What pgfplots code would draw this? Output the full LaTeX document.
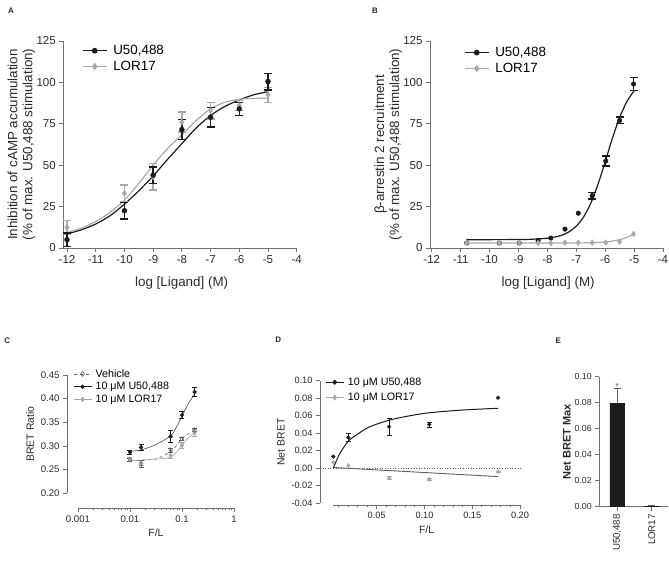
\documentclass[border=0pt]{standalone}
\usepackage{fontspec}
\setmainfont{Liberation Sans}
\usepackage{pgfplots}
\pgfplotsset{compat=1.18}

\definecolor{ink}{HTML}{1C1C1C}
\definecolor{lgray}{HTML}{A9A9A9}
\definecolor{mgray}{HTML}{5E5E5E}
\definecolor{axgray}{HTML}{707070}
\definecolor{txt}{HTML}{2A2A2A}

\newcommand{\fs}[2]{\fontsize{#1}{#2}\selectfont}

\pgfplotsset{
  gp/.style={
    scale only axis, anchor=south west, clip=false,
    axis lines=left, axis line style={-, axgray, line width=0.9pt},
    every tick/.style={axgray, line width=0.9pt},
    tick align=outside, major tick length=4pt, minor tick length=2.5pt,
    /pgf/number format/assume math mode=true,
    every tick label/.append style={text=txt},
    label style={text=txt},
    legend cell align=left,
  },
  big/.style={
    ticklabel style={font=\fs{11.5}{12}},
    label style={font=\fs{13.4}{15}, align=center},
    legend style={draw=none, fill=none, font=\fs{13.4}{14}, inner sep=0pt, row sep=3pt,
      column sep=5pt, nodes={inner sep=1pt}},
    legend image code/.code={\draw[mark repeat=2,mark phase=2,##1] plot coordinates {(0pt,0pt) (12pt,0pt) (24pt,0pt)};},
    xlabel style={at={(axis description cs:0.507,-0.168)}, anchor=center},
    ylabel style={at={(axis description cs:-0.18,0.5)}, anchor=center},
    xtick={-12,-11,...,-4}, ytick={0,25,...,125}, ymin=0, ymax=125, xmax=-4,
    xlabel={log [Ligand] (M)},
  },
  small/.style={
    ticklabel style={font=\fs{9.6}{10}},
    label style={font=\fs{10.5}{12}},
    legend style={draw=none, fill=none, font=\fs{10.7}{11}, inner sep=0pt, row sep=2.5pt,
      column sep=3pt, nodes={inner sep=0.6pt}},
    legend image code/.code={\draw[mark repeat=2,mark phase=2,##1] plot coordinates {(0pt,0pt) (9pt,0pt) (18pt,0pt)};},
  },
  ebA/.style={error bars/.cd, y dir=both, y explicit,
    error bar style={line width=1.4pt}, error mark options={rotate=90, line width=1.4pt, mark size=4pt}, /pgfplots/.cd},
  ebC/.style={error bars/.cd, y dir=both, y explicit,
    error bar style={line width=0.6pt}, error mark options={rotate=90, line width=0.6pt, mark size=2.5pt}, /pgfplots/.cd},
}

\begin{document}
\begin{tikzpicture}
\path[use as bounding box] (0,0) rectangle (669pt,564pt);

% panel letters
\begin{scope}[every node/.style={font=\bfseries\fs{8}{8}, text=txt}]
\node at (11pt,553.3pt) {A};
\node at (375pt,553.3pt) {B};
\node at (7.3pt,223.3pt) {C};
\node at (278.3pt,224.7pt) {D};
\node at (558.3pt,223.3pt) {E};
\end{scope}

% ---------- A ----------
\begin{axis}[gp, big, at={(63.3pt,316pt)}, width=233.4pt, height=207pt, xmin=-12.13,
  ylabel={Inhibition of cAMP accumulation\\(\% of max. U50,488 stimulation)},
  legend style={at={(axis description cs:0.08,0.985)}, anchor=north west}]
\addlegendimage{ink, line width=1.1pt, mark=*, mark size=2.3pt}
\addlegendentry{U50,488}
\addlegendimage{lgray, line width=1.1pt, mark=diamond*, mark size=2.8pt}
\addlegendentry{LOR17}
\addplot[ink, line width=1.2pt, smooth, forget plot] coordinates {
(-12,8.5) (-11.5,11) (-11,14.5) (-10.5,19.5) (-10,26.5) (-9.5,34.5) (-9,43.5)
(-8.5,53.5) (-8,63) (-7.5,72.5) (-7,80) (-6.5,85.5) (-6,89.4) (-5.5,92.5) (-5,94.4)};
\addplot[lgray, line width=1.2pt, smooth, forget plot] coordinates {
(-12,9.3) (-11.5,12) (-11,16) (-10.5,21.5) (-10,29) (-9.5,39) (-9,50)
(-8.5,60) (-8,68.5) (-7.5,77) (-7,84) (-6.5,88) (-6,89.8) (-5.5,90.3) (-5,90.5)};
\addplot[only marks, lgray, mark=diamond*, mark size=3pt, forget plot, ebA] coordinates {
(-12,12.5) +- (0,4) (-10,33) +- (0,5) (-9,43) +- (0,8) (-8,76) +- (0,6)
(-7,83) +- (0,5) (-6,86) +- (0,3) (-5,92.5) +- (0,4.5)};
\addplot[only marks, ink, mark=*, mark size=2.5pt, forget plot, ebA] coordinates {
(-12,5) +- (0,4) (-10,22.5) +- (0,5) (-9,44) +- (0,5) (-8,71.5) +- (0,6)
(-7,79) +- (0,6) (-6,84) +- (0,4) (-5,100.5) +- (0,5)};
\end{axis}

% ---------- B ----------
\begin{axis}[gp, big, at={(430pt,316pt)}, width=233pt, height=207pt, xmin=-12.06,
  ylabel={β-arrestin 2 recruitment\\(\% of max. U50,488 stimulation)},
  legend style={at={(axis description cs:0.146,0.976)}, anchor=north west}]
\addlegendimage{ink, line width=1.1pt, mark=*, mark size=2.3pt}
\addlegendentry{U50,488}
\addlegendimage{lgray, line width=1.1pt, mark=diamond*, mark size=2.8pt}
\addlegendentry{LOR17}
\addplot[ink, line width=1.2pt, smooth, forget plot] coordinates {
(-10.8,5) (-9,5.1) (-8.5,5.3) (-8,5.9) (-7.75,6.6) (-7.5,7.7) (-7.25,9.8) (-7,13.2)
(-6.75,18.7) (-6.5,27) (-6.25,38.4) (-6,52.1) (-5.75,66.3) (-5.5,78.8) (-5.25,88.4) (-5,94.9)};
\addplot[lgray, line width=1.2pt, smooth, forget plot] coordinates {
(-10.8,3) (-8,3) (-7,3.05) (-6.5,3.2) (-6,3.6) (-5.75,4.2) (-5.5,5.0) (-5.25,6.4) (-5,8.4)};
\addplot[only marks, ink, mark=*, mark size=2.3pt, forget plot] coordinates {
(-10.79,3) (-9.66,3) (-8.97,3) (-8.32,4.6) (-7.88,6) (-7.39,11.4) (-6.93,21)};
\addplot[only marks, lgray, mark=diamond*, mark size=2.8pt, forget plot] coordinates {
(-10.79,3) (-9.66,3) (-8.97,3) (-8.32,3) (-7.88,3) (-7.39,3.2) (-6.93,3.2)
(-6.45,3.2) (-5.98,3.3) (-5.5,3.8) (-5.02,8.5)};
\addplot[only marks, ink, mark=*, mark size=2.3pt, forget plot, ebA] coordinates {
(-6.45,31.5) +- (0,2) (-5.98,52.5) +- (0,3) (-5.5,77) +- (0,2) (-5.02,99) +- (0,4)};
\end{axis}

% ---------- C ----------
\begin{axis}[gp, small, at={(78pt,70.7pt)}, width=156pt, height=118.3pt,
  xmode=log, xmin=0.001, xmax=1, ymin=0.2, ymax=0.45,
  axis x line shift=14.7pt, axis y line shift=11pt,
  xtick={0.001,0.01,0.1,1}, log ticks with fixed point,
  minor xtick={0.002,0.003,0.004,0.005,0.006,0.007,0.008,0.009,0.02,0.03,0.04,0.05,0.06,0.07,0.08,0.09,0.2,0.3,0.4,0.5,0.6,0.7,0.8,0.9},
  ytick={0.2,0.25,0.3,0.35,0.4,0.45},
  yticklabel style={/pgf/number format/.cd, fixed, fixed zerofill, precision=2},
  xlabel={F/L}, ylabel={BRET Ratio},
  legend style={at={(axis description cs:-0.032,1.055)}, anchor=north west}]
\addlegendimage{mgray, line width=0.6pt, dashed, mark=diamond, mark size=2.4pt, mark options={solid, fill=white}}
\addlegendentry{Vehicle}
\addlegendimage{ink, line width=0.8pt, mark=*, mark size=1.8pt}
\addlegendentry{10 μM U50,488}
\addlegendimage{lgray, line width=0.8pt, mark=diamond*, mark size=2.2pt}
\addlegendentry{10 μM LOR17}
\addplot[mgray, line width=0.6pt, dashed, smooth, forget plot] coordinates {
(0.01,0.270) (0.03,0.272) (0.06,0.288) (0.08,0.302) (0.1,0.316) (0.13,0.325) (0.175,0.334)};
\addplot[lgray, line width=0.7pt, smooth, forget plot] coordinates {
(0.01,0.269) (0.03,0.272) (0.06,0.276) (0.08,0.288) (0.1,0.302) (0.13,0.316) (0.175,0.328)};
\addplot[mgray, line width=0.7pt, smooth, forget plot] coordinates {
(0.01,0.289) (0.016,0.2915) (0.03,0.302) (0.06,0.321) (0.08,0.342) (0.1,0.363) (0.13,0.388) (0.175,0.410)};
\addplot[only marks, lgray, mark=diamond*, mark size=2.4pt, forget plot, ebC] coordinates {
(0.01,0.272) +- (0,0.004) (0.0163,0.264) +- (0,0.005) (0.0605,0.280) +- (0,0.007)
(0.1,0.302) +- (0,0.006) (0.175,0.328) +- (0,0.007)};
\addplot[only marks, mgray, mark=diamond, mark size=2.4pt, mark options={fill=white}, forget plot, ebC] coordinates {
(0.01,0.271) +- (0,0.003) (0.0163,0.262) +- (0,0.007) (0.0605,0.2915) +- (0,0.004)
(0.1,0.315) +- (0,0.004) (0.175,0.334) +- (0,0.004)};
\addplot[only marks, ink, mark=*, mark size=1.9pt, forget plot, ebC] coordinates {
(0.01,0.287) +- (0,0.004) (0.0163,0.297) +- (0,0.006) (0.0605,0.320) +- (0,0.013)
(0.1,0.3655) +- (0,0.008) (0.175,0.414) +- (0,0.009)};
\end{axis}

% ---------- D ----------
\begin{axis}[gp, small, at={(333.3pt,60.7pt)}, width=186.7pt, height=122.6pt,
  xmin=0.0046, xmax=0.2, ymin=-0.04, ymax=0.1,
  axis x line shift=1.7pt, axis y line shift=13.3pt,
  ticklabel style={font=\fs{9.2}{10}},
  xtick={0.05,0.1,0.15,0.2},
  minor xtick={0.01,0.02,0.03,0.04,0.06,0.07,0.08,0.09,0.11,0.12,0.13,0.14,0.16,0.17,0.18,0.19},
  ytick={-0.04,-0.02,0,0.02,0.04,0.06,0.08,0.1},
  xticklabel style={/pgf/number format/.cd, fixed, fixed zerofill, precision=2},
  yticklabel style={/pgf/number format/.cd, fixed, fixed zerofill, precision=2},
  xlabel={F/L}, ylabel={Net BRET},
  legend style={at={(axis description cs:-0.044,1.03)}, anchor=north west, row sep=5pt}]
\addlegendimage{ink, line width=1pt, mark=*, mark size=1.9pt}
\addlegendentry{10 μM U50,488}
\addlegendimage{lgray, line width=1pt, mark=diamond*, mark size=2.2pt}
\addlegendentry{10 μM LOR17}
\addplot[mgray, dotted, line width=0.6pt, forget plot] coordinates {(-0.0093,0) (0.201,0)};
\addplot[ink, line width=1pt, smooth, forget plot] coordinates {
(0.0046,0.0) (0.008,0.009) (0.012,0.018) (0.0203,0.031) (0.03,0.039) (0.043,0.0475)
(0.064,0.0552) (0.085,0.060) (0.106,0.0635) (0.14,0.0665) (0.177,0.0685)};
\addplot[mgray, line width=0.9pt, forget plot] coordinates {(0.0046,0.0009) (0.177,-0.0095)};
\addplot[only marks, lgray, mark=diamond*, mark size=2.2pt, forget plot, ebC] coordinates {
(0.0046,0.0068) (0.0203,0.003) (0.063,-0.011) +- (0,0.0015) (0.105,-0.0126) +- (0,0.001) (0.177,-0.0039) +- (0,0.001)};
\addplot[only marks, ink, mark=*, mark size=1.9pt, forget plot, ebC] coordinates {
(0.0046,0.0133) (0.0203,0.035) +- (0,0.0045) (0.063,0.0475) +- (0,0.0095)
(0.105,0.050) +- (0,0.003) (0.177,0.0806)};
\end{axis}

% ---------- E ----------
\begin{axis}[gp, small, at={(599.3pt,57.3pt)}, width=68.7pt, height=130pt,
  xmin=-0.51, xmax=1.47, ymin=0, ymax=0.1,
  ticklabel style={font=\fs{8.8}{10}},
  xtick={0,1}, xticklabels={{U50,488},{LOR17}},
  xticklabel style={rotate=90, anchor=east, font=\fs{9.7}{10}},
  ytick={0,0.02,0.04,0.06,0.08,0.1},
  yticklabel style={/pgf/number format/.cd, fixed, fixed zerofill, precision=2},
  ylabel={Net BRET Max},
  ylabel style={font=\bfseries\fs{11}{12}, at={(axis description cs:-0.47,0.5)}, anchor=center}]
\addplot[ybar, bar width=14.3pt, fill=ink, draw=ink,
  error bars/.cd, y dir=plus, y explicit,
  error bar style={mgray, line width=0.7pt}, error mark options={rotate=90, mgray, line width=0.7pt, mark size=3.5pt}]
  coordinates {(0,0.0795) +- (0,0.0115) (1,0.0005) +- (0,0.0008)};
\node[font=\fs{9}{9}, text=mgray] at (axis cs:0,0.0925) {*};
\end{axis}
\end{tikzpicture}
\end{document}
